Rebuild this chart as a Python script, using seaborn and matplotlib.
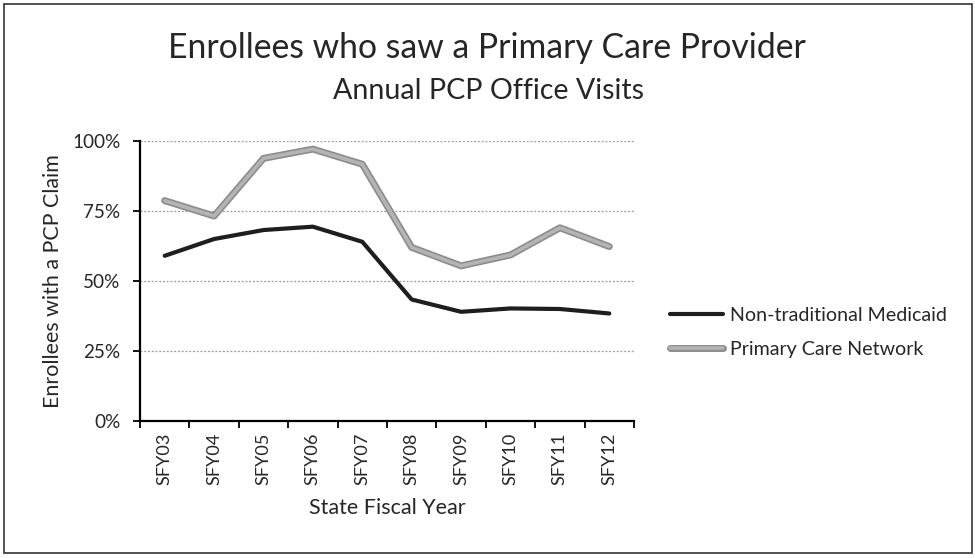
import matplotlib
matplotlib.use("Agg")
import matplotlib.pyplot as plt
import matplotlib.patheffects as pe
import seaborn as sns
import pandas as pd
from matplotlib.ticker import FixedLocator, PercentFormatter
from matplotlib.patches import Rectangle

years = ["SFY03", "SFY04", "SFY05", "SFY06", "SFY07", "SFY08", "SFY09", "SFY10", "SFY11", "SFY12"]
non_traditional = [59.0, 65.0, 68.2, 69.4, 64.0, 43.4, 39.0, 40.2, 40.0, 38.4]
primary_care = [78.7, 73.2, 93.8, 97.1, 91.7, 62.0, 55.4, 59.3, 69.0, 62.3]
series_names = ["Non-traditional Medicaid", "Primary Care Network"]
y_ticks = [0, 25, 50, 75, 100]

df = pd.DataFrame({
    "year": years * 2,
    "value": non_traditional + primary_care,
    "series": [series_names[0]] * len(years) + [series_names[1]] * len(years),
})

sns.set_theme(style="white")
plt.rcParams["font.family"] = ["Lato", "DejaVu Sans"]

W, H = 975, 558
fig = plt.figure(figsize=(W / 100, H / 100), dpi=100)
renderer = fig.canvas.get_renderer()


def size_for(text, target_px, dim="w", rotation=0):
    t = fig.text(0, 0, text, fontsize=10, rotation=rotation)
    bb = t.get_window_extent(renderer)
    t.remove()
    return 10 * target_px / (bb.width if dim == "w" else bb.height)


fs_title = size_for("Enrollees who saw a Primary Care Provider", 638)
fs_sub = size_for("Annual PCP Office Visits", 310)
fs_ytick = size_for("100%", 48)
fs_xtick = size_for("SFY03", 52, dim="h", rotation=90)
fs_xlabel = size_for("State Fiscal Year", 156)
fs_ylabel = size_for("Enrollees with a PCP Claim", 252, dim="h", rotation=90)
fs_leg = size_for("Non-traditional Medicaid", 217)

ax_left, ax_right, ax_top, ax_bottom = 140, 634, 141, 421
ax = fig.add_axes([ax_left / W, 1 - ax_bottom / H, (ax_right - ax_left) / W, (ax_bottom - ax_top) / H])

sns.lineplot(data=df, x="year", y="value", hue="series", sort=False,
             palette={series_names[0]: "#1e1e1e", series_names[1]: "#b4b4b4"},
             ax=ax, legend=False)
lines = ax.get_lines()
lines[0].set_linewidth(3.0)
lines[1].set_linewidth(2.6)
lines[1].set_path_effects([pe.Stroke(linewidth=5.0, foreground="#8c8c8c"), pe.Normal()])

ax.set_xlim(-0.5, len(years) - 0.5)
ax.set_ylim(0, 100)
ax.yaxis.set_major_locator(FixedLocator(y_ticks))
ax.yaxis.set_major_formatter(PercentFormatter(decimals=0))
ax.grid(axis="y", color="#9a9a9a", linestyle=(0, (1.5, 1.5)), linewidth=0.9)
ax.grid(axis="x", visible=False)

ax.set_xticks([i - 0.5 for i in range(len(years) + 1)])
ax.set_xticklabels([])
ax.set_xticks(range(len(years)), minor=True)
ax.set_xticklabels(years, minor=True, rotation=90, fontsize=fs_xtick)
ax.tick_params(axis="x", which="major", direction="out", length=5, width=1.3, color="black", bottom=True)
ax.tick_params(axis="x", which="minor", length=0, pad=8.5)
ax.tick_params(axis="y", direction="out", length=5, width=1.3, color="black", left=True,
               labelsize=fs_ytick, pad=9)

for s in ["top", "right"]:
    ax.spines[s].set_visible(False)
for s in ["left", "bottom"]:
    ax.spines[s].set_color("black")
    ax.spines[s].set_linewidth(1.6)

ax.set_xlabel("State Fiscal Year", fontsize=fs_xlabel, va="top")
ax.xaxis.set_label_coords(0.5, (ax_bottom - 498) / (ax_bottom - ax_top))
ax.set_ylabel("Enrollees with a PCP Claim", fontsize=fs_ylabel)
ax.yaxis.set_label_coords((63 - ax_left) / (ax_right - ax_left), 0.5)

fig.text(487 / W, 1 - 58 / H, "Enrollees who saw a Primary Care Provider",
         ha="center", va="baseline", fontsize=fs_title)
fig.text(489 / W, 1 - 99 / H, "Annual PCP Office Visits",
         ha="center", va="baseline", fontsize=fs_sub)

leg_px = fs_leg * 100 / 72
fig.legend(lines, series_names, loc="center left",
           bbox_to_anchor=(670 / W, 1 - 332.5 / H), frameon=False,
           fontsize=fs_leg, handlelength=53 / leg_px, handletextpad=7 / leg_px,
           labelspacing=(41 - 1.2 * leg_px) / leg_px, borderpad=0, borderaxespad=0)

fig.patches.append(Rectangle((4 / W, 5 / H), 968 / W, 549 / H, transform=fig.transFigure,
                             fill=False, edgecolor="#333333", linewidth=1.2))

fig.savefig("out.png", dpi=100)
